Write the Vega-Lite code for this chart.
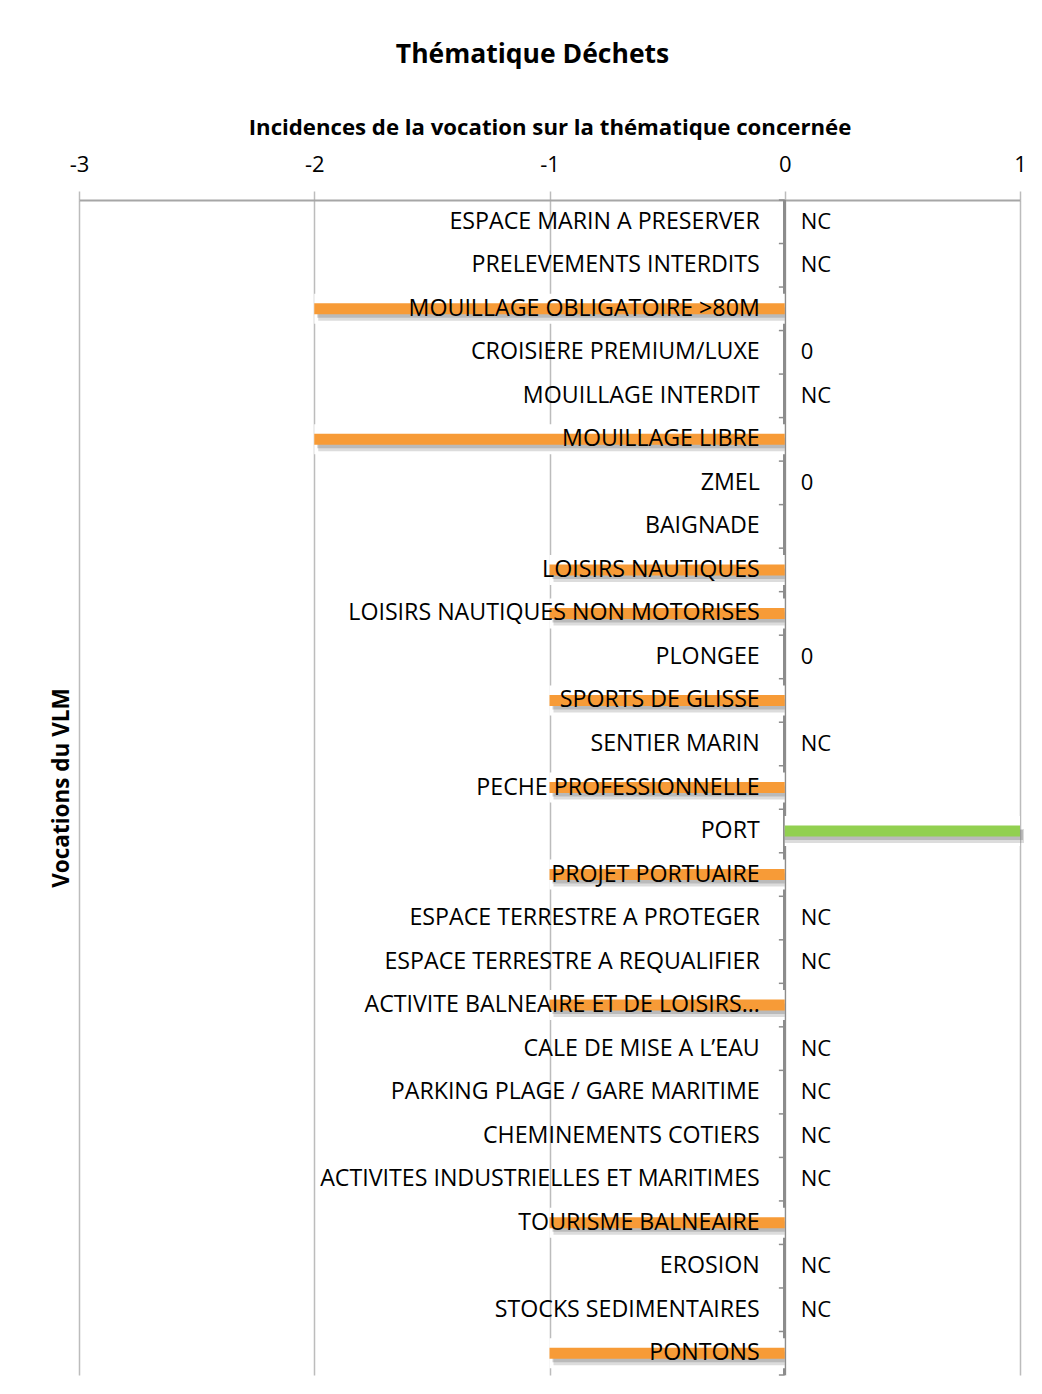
{
  "$schema": "https://vega.github.io/schema/vega-lite/v6.json",
  "width": 941,
  "height": 1175,
  "autosize": {"type": "none"},
  "padding": {"left": 79, "top": 200, "right": 22, "bottom": 19},
  "background": "white",
  "config": {
    "view": {"stroke": null},
    "font": "Open Sans",
    "text": {"font": "Open Sans"}
  },
  "title": {
    "text": "Thématique Déchets",
    "font": "Open Sans",
    "fontSize": 26.5,
    "fontWeight": "bold",
    "color": "#000000",
    "anchor": "middle",
    "dx": -17,
    "offset": 48
  },
  "data": {
    "values": [
      {"vocation": "ESPACE MARIN A PRESERVER", "val": null, "lab": "NC"},
      {"vocation": "PRELEVEMENTS INTERDITS", "val": null, "lab": "NC"},
      {"vocation": "MOUILLAGE OBLIGATOIRE >80M", "val": -2, "lab": null},
      {"vocation": "CROISIERE PREMIUM/LUXE", "val": null, "lab": "0"},
      {"vocation": "MOUILLAGE INTERDIT", "val": null, "lab": "NC"},
      {"vocation": "MOUILLAGE LIBRE", "val": -2, "lab": null},
      {"vocation": "ZMEL", "val": null, "lab": "0"},
      {"vocation": "BAIGNADE", "val": null, "lab": null},
      {"vocation": "LOISIRS NAUTIQUES", "val": -1, "lab": null},
      {"vocation": "LOISIRS NAUTIQUES NON MOTORISES", "val": -1, "lab": null},
      {"vocation": "PLONGEE", "val": null, "lab": "0"},
      {"vocation": "SPORTS DE GLISSE", "val": -1, "lab": null},
      {"vocation": "SENTIER MARIN", "val": null, "lab": "NC"},
      {"vocation": "PECHE PROFESSIONNELLE", "val": -1, "lab": null},
      {"vocation": "PORT", "val": 1, "lab": null},
      {"vocation": "PROJET PORTUAIRE", "val": -1, "lab": null},
      {"vocation": "ESPACE TERRESTRE A PROTEGER", "val": null, "lab": "NC"},
      {"vocation": "ESPACE TERRESTRE A REQUALIFIER", "val": null, "lab": "NC"},
      {"vocation": "ACTIVITE BALNEAIRE ET DE LOISIRS…", "val": -1, "lab": null},
      {"vocation": "CALE DE MISE A L’EAU", "val": null, "lab": "NC"},
      {"vocation": "PARKING PLAGE / GARE MARITIME", "val": null, "lab": "NC"},
      {"vocation": "CHEMINEMENTS COTIERS", "val": null, "lab": "NC"},
      {"vocation": "ACTIVITES INDUSTRIELLES ET MARITIMES", "val": null, "lab": "NC"},
      {"vocation": "TOURISME BALNEAIRE", "val": -1, "lab": null},
      {"vocation": "EROSION", "val": null, "lab": "NC"},
      {"vocation": "STOCKS SEDIMENTAIRES", "val": null, "lab": "NC"},
      {"vocation": "PONTONS", "val": -1, "lab": null}
    ]
  },
  "encoding": {
    "y": {
      "field": "vocation",
      "type": "nominal",
      "sort": null,
      "scale": {
        "paddingInner": 0,
        "paddingOuter": 0,
        "domain": [
          "ESPACE MARIN A PRESERVER",
          "PRELEVEMENTS INTERDITS",
          "MOUILLAGE OBLIGATOIRE >80M",
          "CROISIERE PREMIUM/LUXE",
          "MOUILLAGE INTERDIT",
          "MOUILLAGE LIBRE",
          "ZMEL",
          "BAIGNADE",
          "LOISIRS NAUTIQUES",
          "LOISIRS NAUTIQUES NON MOTORISES",
          "PLONGEE",
          "SPORTS DE GLISSE",
          "SENTIER MARIN",
          "PECHE PROFESSIONNELLE",
          "PORT",
          "PROJET PORTUAIRE",
          "ESPACE TERRESTRE A PROTEGER",
          "ESPACE TERRESTRE A REQUALIFIER",
          "ACTIVITE BALNEAIRE ET DE LOISIRS…",
          "CALE DE MISE A L’EAU",
          "PARKING PLAGE / GARE MARITIME",
          "CHEMINEMENTS COTIERS",
          "ACTIVITES INDUSTRIELLES ET MARITIMES",
          "TOURISME BALNEAIRE",
          "EROSION",
          "STOCKS SEDIMENTAIRES",
          "PONTONS"
        ]
      },
      "axis": {
        "title": "Vocations du VLM",
        "titleFont": "Open Sans",
        "titleFontSize": 22.5,
        "titleFontWeight": "bold",
        "titleColor": "#000000",
        "titlePadding": 6,
        "labels": false,
        "ticks": false,
        "domain": false
      }
    }
  },
  "layer": [
    {
      "mark": {"type": "rule", "color": "#8c8c8c", "strokeWidth": 2},
      "encoding": {
        "x": {
          "datum": 0,
          "type": "quantitative",
          "scale": {"domain": [-3, 1], "nice": false, "zero": false},
          "axis": {
            "orient": "top",
            "values": [-3, -2, -1, 0, 1],
            "labelExpr": "'' + datum.value",
            "title": "Incidences de la vocation sur la thématique concernée",
            "titleFont": "Open Sans",
            "titleFontSize": 22.2,
            "titleFontWeight": "bold",
            "titleColor": "#000000",
            "titlePadding": 14,
            "labelFont": "Open Sans",
            "labelFontSize": 22,
            "labelColor": "#000000",
            "labelPadding": 15,
            "labelFlush": false,
            "grid": true,
            "gridColor": "#bcbcbc",
            "gridWidth": 1.5,
            "domainColor": "#a6a6a6",
            "domainWidth": 2,
            "tickColor": "#bcbcbc",
            "tickWidth": 1.5,
            "tickSize": 9
          }
        },
        "y": null
      }
    },
    {
      "transform": [{"filter": "datum.val != null"}],
      "mark": {"type": "bar", "color": "#ffffff", "size": 30},
      "encoding": {
        "x": {"field": "val", "type": "quantitative"},
        "x2": {"datum": 0}
      }
    },
    {
      "transform": [{"filter": "datum.val != null"}],
      "mark": {"type": "bar", "color": "#8a8a8a", "opacity": 0.3, "size": 14, "xOffset": 4, "yOffset": 5},
      "encoding": {
        "x": {"field": "val", "type": "quantitative"},
        "x2": {"datum": 0}
      }
    },
    {
      "transform": [{"filter": "datum.val != null"}],
      "mark": {"type": "bar", "color": "#7a7a7a", "opacity": 0.35, "size": 10, "xOffset": 3, "yOffset": 4},
      "encoding": {
        "x": {"field": "val", "type": "quantitative"},
        "x2": {"datum": 0}
      }
    },
    {
      "transform": [{"filter": "datum.val != null"}],
      "mark": {"type": "bar", "size": 11},
      "encoding": {
        "x": {"field": "val", "type": "quantitative"},
        "x2": {"datum": 0},
        "color": {
          "condition": {"test": "datum.val > 0", "value": "#92D050"},
          "value": "#F79B37"
        }
      }
    },
    {
      "mark": {"type": "rule", "color": "#8c8c8c", "strokeWidth": 1.5},
      "encoding": {
        "y": {"field": "vocation", "type": "nominal", "bandPosition": 0},
        "x": {"datum": -0.025},
        "x2": {"datum": 0}
      }
    },
    {
      "transform": [{"filter": "datum.vocation == 'PONTONS'"}],
      "mark": {"type": "rule", "color": "#8c8c8c", "strokeWidth": 1.5},
      "encoding": {
        "y": {"field": "vocation", "type": "nominal", "bandPosition": 1},
        "x": {"datum": -0.025},
        "x2": {"datum": 0}
      }
    },
    {
      "mark": {"type": "text", "align": "right", "baseline": "middle", "dx": -25, "fontSize": 23.2, "color": "#000000"},
      "encoding": {
        "x": {"datum": 0},
        "text": {"field": "vocation"}
      }
    },
    {
      "transform": [{"filter": "datum.lab != null"}],
      "mark": {"type": "text", "align": "left", "baseline": "middle", "dx": 16, "fontSize": 22, "color": "#000000"},
      "encoding": {
        "x": {"datum": 0},
        "text": {"field": "lab"}
      }
    }
  ]
}
